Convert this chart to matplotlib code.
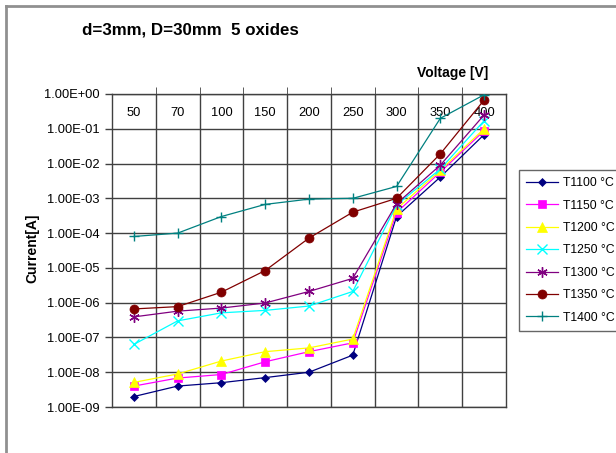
import matplotlib
matplotlib.use("Agg")
import matplotlib.pyplot as plt
from matplotlib.ticker import FixedLocator, FuncFormatter, NullFormatter
from matplotlib.lines import Line2D

plt.rcParams['font.family'] = ['Liberation Sans', 'DejaVu Sans']

voltages = ["50", "70", "100", "150", "200", "250", "300", "350", "400"]

t1100 = [2e-9, 4e-9, 5e-9, 7e-9, 1e-8, 3.1e-8, 3.0e-4, 4.1e-3, 0.068]
t1150 = [4e-9, 6.8e-9, 8.6e-9, 2e-8, 3.9e-8, 7e-8, 3.9e-4, 5.7e-3, 0.088]
t1200 = [5.1e-9, 8.9e-9, 2.1e-8, 3.9e-8, 5e-8, 9e-8, 4.9e-4, 6.4e-3, 0.1]
t1250 = [6.3e-8, 3e-7, 5.1e-7, 6e-7, 8e-7, 2.1e-6, 6.4e-4, 7e-3, 0.17]
t1300 = [3.9e-7, 5.7e-7, 7e-7, 9.8e-7, 2.1e-6, 5e-6, 7e-4, 9e-3, 0.25]
t1350 = [6.6e-7, 7.7e-7, 2e-6, 8.4e-6, 7.2e-5, 4e-4, 1e-3, 0.019, 0.67]
t1400 = [8e-5, 1e-4, 3e-4, 6.7e-4, 9.5e-4, 1e-3, 2.2e-3, 0.2, 0.95]

series_names = ["T1100 °C", "T1150 °C", "T1200 °C", "T1250 °C", "T1300 °C", "T1350 °C", "T1400 °C"]
series_values = [t1100, t1150, t1200, t1250, t1300, t1350, t1400]
colors = ["#000080", "#FF00FF", "#FFFF00", "#00FFFF", "#800080", "#800000", "#008080"]
markers = ["D", "s", "^", "x", (6, 2, 0), "o", "+"]
msizes = [4.5, 6, 6.5, 6.5, 7.5, 6.5, 7]

y_ticks = [10.0 ** e for e in range(-9, 1)]

fig = plt.figure(figsize=(6.16, 4.53), dpi=100)
W, H = 616, 453
ax = fig.add_axes([112 / W, 1 - 407 / H, (506 - 112) / W, (407 - 94) / H])

x = list(range(len(voltages)))
handles = []
for name, vals, c, m, ms in zip(series_names, series_values, colors, markers, msizes):
    mew = 1.0 if m in ("x", "+", (6, 2, 0)) else 0.5
    ln, = ax.plot(x, vals, color=c, lw=0.9, marker=m, markersize=ms,
                  markeredgewidth=mew, markeredgecolor=c, markerfacecolor=c,
                  label=name, zorder=3)
    handles.append(ln)

ax.set_yscale('log')
ax.set_ylim(1e-9, 1e0)
ax.set_xlim(-0.5, len(voltages) - 0.5)

ax.yaxis.set_major_locator(FixedLocator(y_ticks))
ax.yaxis.set_minor_locator(FixedLocator([]))
ax.yaxis.set_minor_formatter(NullFormatter())


def fmt(v, pos):
    return "%.2E" % v


ax.yaxis.set_major_formatter(FuncFormatter(fmt))
ax.tick_params(axis='y', direction='out', length=5, width=1, color='#404040',
               labelsize=9.3, pad=4)

ax.set_xticks(x)
ax.set_xticklabels(voltages)
ax.xaxis.tick_top()
ax.tick_params(axis='x', which='major', top=False, bottom=False, labeltop=True,
               labelbottom=False, length=0, pad=-18, labelsize=9.3)
ax.set_xticks([i + 0.5 for i in range(len(voltages) - 1)], minor=True)
ax.tick_params(axis='x', which='minor', top=True, bottom=False, length=5,
               direction='out', color='#404040')

ax.grid(True, which='major', axis='y', color='#404040', lw=1)
ax.grid(True, which='minor', axis='x', color='#404040', lw=1)
ax.set_axisbelow(True)
for sp in ax.spines.values():
    sp.set_color('#404040')
    sp.set_linewidth(1)

fig.text(82 / W, 1 - 30 / H, "d=3mm, D=30mm  5 oxides", fontsize=12.2,
         fontweight='bold', va='center', ha='left')
fig.text(488 / W, 1 - 73 / H, "Voltage [V]", fontsize=10, fontweight='bold',
         va='center', ha='right')
fig.text(32 / W, 1 - 248 / H, "Current[A]", fontsize=10, fontweight='bold',
         va='center', ha='center', rotation=90)

leg = fig.legend(handles=handles, loc='upper left',
                 bbox_to_anchor=(519 / W, 1 - 170 / H), fontsize=8.8,
                 frameon=True, fancybox=False, handlelength=2.6,
                 borderaxespad=0, labelspacing=0.85, borderpad=0.6,
                 handletextpad=0.4)
leg.get_frame().set_edgecolor('#404040')
leg.get_frame().set_linewidth(1)

# outer chart border
fig.add_artist(Line2D([5.5 / W, 5.5 / W], [0, 1 - 5.5 / H], color='#909090', lw=2,
                      transform=fig.transFigure))
fig.add_artist(Line2D([5.5 / W, 1], [1 - 5.5 / H, 1 - 5.5 / H], color='#909090', lw=2,
                      transform=fig.transFigure))

fig.savefig("out.png", dpi=100)
